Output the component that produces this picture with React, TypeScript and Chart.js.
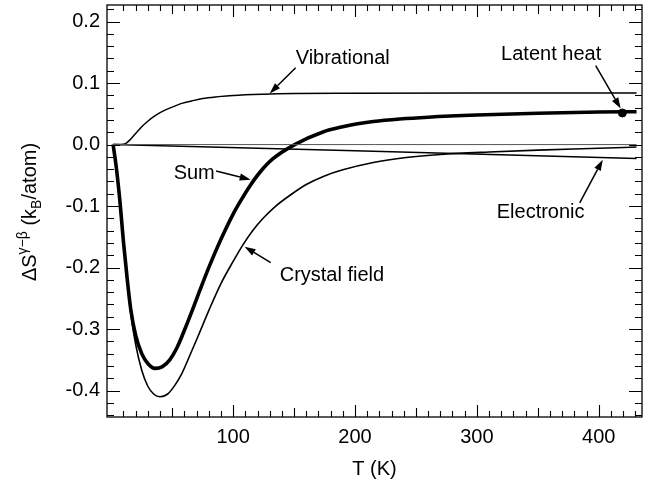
import React, { useEffect, useRef } from "react";
import { Chart, registerables } from "chart.js";

Chart.register(...registerables);

// ---- data (T in K, ΔS in kB/atom) ----
const sumT = [1.5, 4, 7, 10, 13, 16, 20, 25, 30, 36, 42, 48, 54, 60, 66, 72.5, 80, 90, 100, 106, 113.5, 122, 132.7, 150.5, 173.7, 190, 201, 215, 236.7, 260, 300, 350, 400, 431];
const sumV = [0, -0.035, -0.09, -0.158, -0.217, -0.268, -0.31, -0.34, -0.356, -0.364, -0.361, -0.35, -0.33, -0.302, -0.272, -0.238, -0.2, -0.154, -0.113, -0.092, -0.068, -0.045, -0.023, 0.0, 0.0205, 0.029, 0.0335, 0.0375, 0.0415, 0.0445, 0.048, 0.051, 0.053, 0.0535];

const crystalT = [1.5, 4, 7, 10, 13, 16, 20, 25, 30, 35, 40, 46, 52, 58, 64, 72, 80, 90, 100, 108, 116, 125, 135, 147, 160, 175, 190, 215, 242, 270, 310, 350, 400, 431];
const crystalV = [0, -0.035, -0.09, -0.16, -0.22, -0.275, -0.325, -0.367, -0.393, -0.406, -0.41, -0.406, -0.392, -0.372, -0.345, -0.308, -0.27, -0.226, -0.19, -0.163, -0.14, -0.119, -0.1, -0.082, -0.065, -0.051, -0.041, -0.029, -0.021, -0.016, -0.012, -0.009, -0.006, -0.004];

const vibT = [1.5, 8, 12, 16, 20, 25, 30, 36, 42, 50, 58, 66, 75, 88, 100, 125, 150, 200, 300, 431];
const vibV = [0, 0, 0.002, 0.009, 0.018, 0.029, 0.038, 0.047, 0.054, 0.061, 0.067, 0.071, 0.075, 0.078, 0.08, 0.082, 0.083, 0.0835, 0.084, 0.084];

const elecT = [1.5, 200, 431];
const elecV = [0, -0.0102, -0.0225];

const zeroT = [1.5, 431];
const zeroV = [0, 0];

const latentT = [419.4];
const latentV = [0.0514];

const xTicks = [100, 200, 300, 400];
const yTicks = [0.2, 0.1, 0.0, -0.1, -0.2, -0.3, -0.4];
const yTickLabels = ["0.2", "0.1", "0.0", "-0.1", "-0.2", "-0.3", "-0.4"];

const xMin = -3.5;
const xMax = 435.5;
const yMin = -0.443;
const yMax = 0.227;

const pts = (xs: number[], ys: number[]) => xs.map((x, i) => ({ x, y: ys[i] }));

const FONT = "'Liberation Sans', Arial, Helvetica, sans-serif";

function drawArrow(ctx: CanvasRenderingContext2D, x1: number, y1: number, x2: number, y2: number) {
  const ang = Math.atan2(y2 - y1, x2 - x1);
  const hl = 11;
  const hw = 3.6;
  const bx = x2 - hl * Math.cos(ang);
  const by = y2 - hl * Math.sin(ang);
  ctx.beginPath();
  ctx.moveTo(x1, y1);
  ctx.lineTo(bx, by);
  ctx.stroke();
  ctx.beginPath();
  ctx.moveTo(x2, y2);
  ctx.lineTo(bx + hw * Math.sin(ang), by - hw * Math.cos(ang));
  ctx.lineTo(bx - hw * Math.sin(ang), by + hw * Math.cos(ang));
  ctx.closePath();
  ctx.fill();
}

const framePlugin = {
  id: "frame",
  afterDraw(chart: any) {
    const ctx: CanvasRenderingContext2D = chart.ctx;
    const { left, right, top, bottom } = chart.chartArea;
    const xs = chart.scales.x;
    const ys = chart.scales.y;
    ctx.save();
    ctx.strokeStyle = "#000";
    ctx.fillStyle = "#000";
    // border
    ctx.lineWidth = 1.3;
    ctx.strokeRect(left, top, right - left, bottom - top);
    // x ticks (inward, top and bottom)
    ctx.lineWidth = 1.1;
    for (let t = 10; t <= 430; t += 10) {
      const px = Math.round(xs.getPixelForValue(t)) + 0.5;
      const len = t % 100 === 0 ? 12 : t % 50 === 0 ? 9 : 6;
      ctx.beginPath();
      ctx.moveTo(px, bottom);
      ctx.lineTo(px, bottom - len);
      ctx.moveTo(px, top);
      ctx.lineTo(px, top + len);
      ctx.stroke();
    }
    // y ticks (inward, left and right)
    for (let k = -22; k <= 11; k++) {
      const v = k * 0.02;
      const py = Math.round(ys.getPixelForValue(v)) + 0.5;
      const major = k % 5 === 0;
      const len = major ? 13 : 7;
      ctx.beginPath();
      ctx.moveTo(left, py);
      ctx.lineTo(left + len, py);
      ctx.moveTo(right, py);
      ctx.lineTo(right - len, py);
      ctx.stroke();
    }
    // annotations
    const notes = [
      { text: "Vibrational", tx: 151.3, ty: 0.1398, ax: 151.3, ay: 0.125, hx: 130, hy: 0.083 },
      { text: "Latent heat", tx: 319.9, ty: 0.147, ax: 397.5, ay: 0.1284, hx: 418, hy: 0.0585 },
      { text: "Sum", tx: 51.2, ty: -0.0465, ax: 86, ay: -0.043, hx: 114.4, hy: -0.0571 },
      { text: "Crystal field", tx: 138.2, ty: -0.2125, ax: 130.8, ay: -0.192, hx: 109.4, hy: -0.166 },
      { text: "Electronic", tx: 316.3, ty: -0.1108, ax: 384.4, ay: -0.0947, hx: 403.3, hy: -0.0246 },
    ];
    ctx.font = `20px ${FONT}`;
    ctx.textAlign = "left";
    ctx.textBaseline = "middle";
    ctx.lineWidth = 1.5;
    for (const n of notes) {
      ctx.fillText(n.text, xs.getPixelForValue(n.tx), ys.getPixelForValue(n.ty));
      drawArrow(
        ctx,
        xs.getPixelForValue(n.ax),
        ys.getPixelForValue(n.ay),
        xs.getPixelForValue(n.hx),
        ys.getPixelForValue(n.hy)
      );
    }
    // x title
    ctx.textAlign = "center";
    ctx.textBaseline = "alphabetic";
    ctx.font = `20px ${FONT}`;
    ctx.fillText("T (K)", (left + right) / 2, 475);
    // y title (rotated, with super/subscripts)
    const pieces = [
      { t: "ΔS", size: 20, dy: 0 },
      { t: "γ−β", size: 14, dy: -9 },
      { t: " (k", size: 20, dy: 0 },
      { t: "B", size: 14, dy: 5 },
      { t: "/atom)", size: 20, dy: 0 },
    ];
    let total = 0;
    const widths: number[] = [];
    for (const p of pieces) {
      ctx.font = `${p.size}px ${FONT}`;
      const w = ctx.measureText(p.t).width;
      widths.push(w);
      total += w;
    }
    ctx.translate(36, 212);
    ctx.rotate(-Math.PI / 2);
    ctx.textAlign = "left";
    let cx = -total / 2;
    pieces.forEach((p, i) => {
      ctx.font = `${p.size}px ${FONT}`;
      ctx.fillText(p.t, cx, p.dy);
      cx += widths[i];
    });
    ctx.restore();
  },
};

export default function App() {
  const ref = useRef<HTMLCanvasElement | null>(null);
  useEffect(() => {
    if (!ref.current) return;
    const lineBase = {
      pointRadius: 0,
      borderColor: "#000",
      backgroundColor: "#000",
      fill: false,
      cubicInterpolationMode: "monotone" as const,
    };
    const chart = new Chart(ref.current, {
      type: "line",
      data: {
        datasets: [
          { ...lineBase, label: "Zero", data: pts(zeroT, zeroV), borderWidth: 1, borderColor: "#555" },
          { ...lineBase, label: "Electronic", data: pts(elecT, elecV), borderWidth: 1.5, tension: 0, cubicInterpolationMode: "default" as const },
          { ...lineBase, label: "Vibrational", data: pts(vibT, vibV), borderWidth: 1.5 },
          { ...lineBase, label: "Crystal field", data: pts(crystalT, crystalV), borderWidth: 1.6 },
          { ...lineBase, label: "Sum", data: pts(sumT, sumV), borderWidth: 3.6 },
          {
            label: "Latent heat",
            type: "scatter" as const,
            data: pts(latentT, latentV),
            pointRadius: 4,
            pointStyle: "circle",
            backgroundColor: "#000",
            borderColor: "#000",
            showLine: false,
          } as any,
        ],
      },
      options: {
        animation: false,
        responsive: false,
        maintainAspectRatio: false,
        layout: { padding: { top: 5, right: 12, left: 0, bottom: 0 } },
        plugins: {
          legend: { display: false },
          tooltip: { enabled: false },
        },
        scales: {
          x: {
            type: "linear",
            min: xMin,
            max: xMax,
            grid: { display: false, drawTicks: false },
            border: { display: false },
            ticks: { color: "#000", font: { family: FONT, size: 20 }, padding: 8, maxRotation: 0, autoSkip: false },
            afterBuildTicks: (s: any) => {
              s.ticks = xTicks.map((v) => ({ value: v }));
            },
            afterFit: (s: any) => {
              s.height = 72;
              s.paddingLeft = 0;
              s.paddingRight = 0;
            },
          },
          y: {
            type: "linear",
            min: yMin,
            max: yMax,
            grid: { display: false, drawTicks: false },
            border: { display: false },
            ticks: {
              color: "#000",
              font: { family: FONT, size: 20 },
              padding: 7,
              autoSkip: false,
              callback: (v: any) => {
                const i = yTicks.findIndex((t) => Math.abs(t - Number(v)) < 1e-9);
                return i >= 0 ? yTickLabels[i] : "";
              },
            },
            afterBuildTicks: (s: any) => {
              s.ticks = yTicks.map((v) => ({ value: v }));
            },
            afterFit: (s: any) => {
              s.width = 107;
              s.paddingTop = 0;
              s.paddingBottom = 0;
            },
          },
        },
      },
      plugins: [framePlugin],
    } as any);
    return () => chart.destroy();
  }, []);
  return (
    <div style={{ position: "absolute", left: 0, top: 0, width: 654, height: 489, background: "#fff" }}>
      <canvas ref={ref} width={654} height={489} style={{ display: "block" }} />
    </div>
  );
}
